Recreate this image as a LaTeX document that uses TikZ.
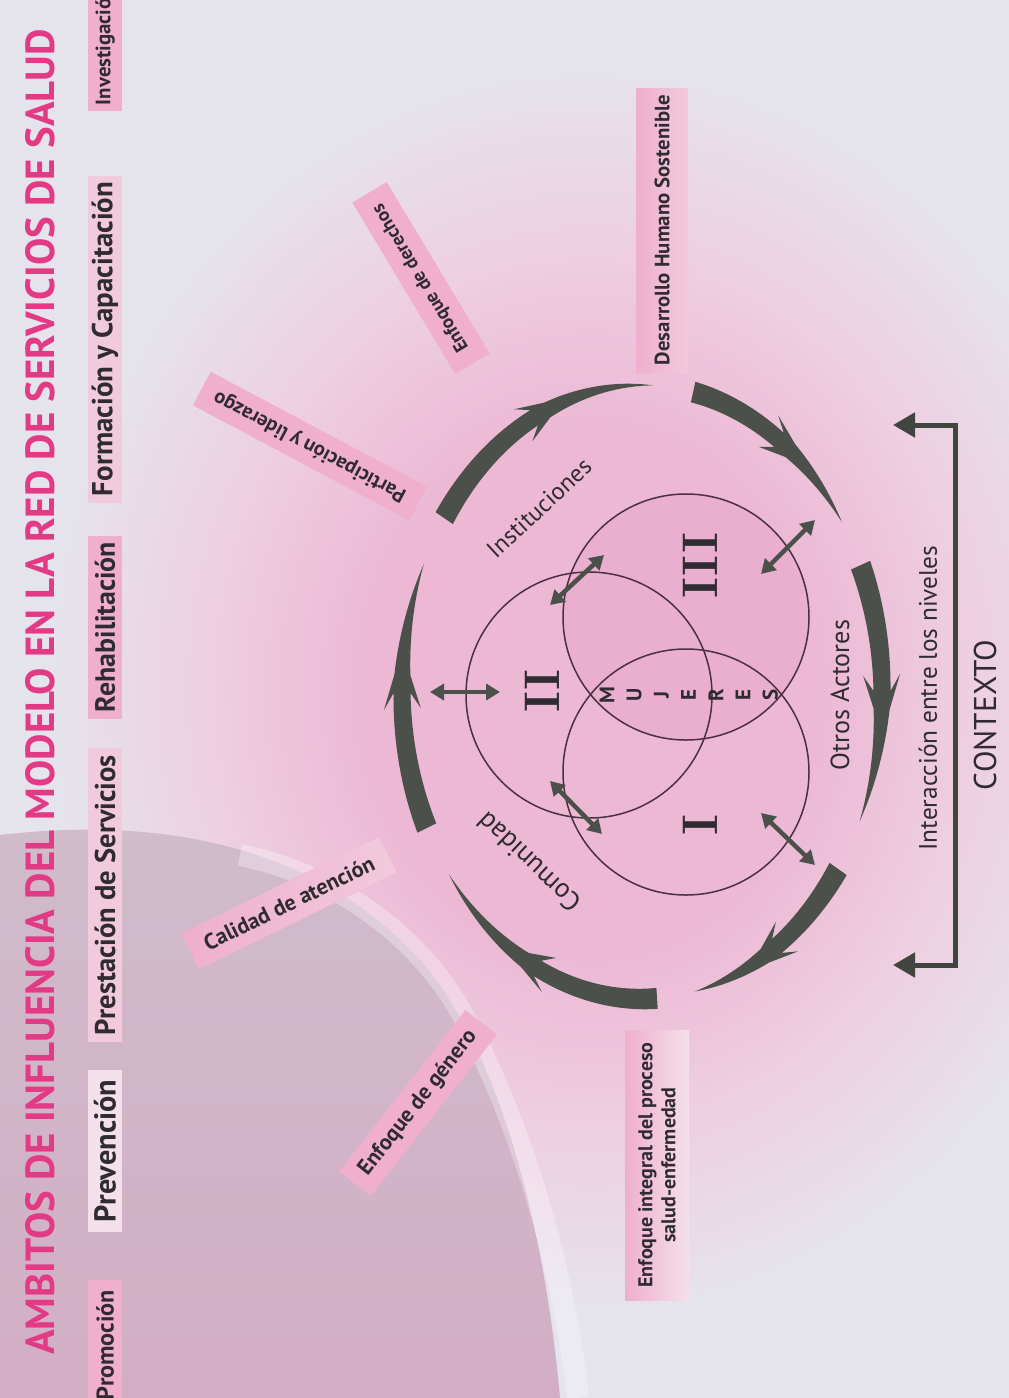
\documentclass[tikz,border=0pt]{standalone}
\usepackage{fontspec}
\usepackage{graphicx}
\newfontfamily\ptsans{PT Sans}
\usetikzlibrary{arrows.meta}

\definecolor{bg}{HTML}{E5E3EC}
\definecolor{glowpink}{HTML}{ECB8D4}
\definecolor{glowmid}{HTML}{EECFE1}
\definecolor{mauveA}{HTML}{D0BCCB}
\definecolor{mauveB}{HTML}{D2AEC4}
\definecolor{titlepink}{HTML}{E23A84}
\definecolor{boxpink}{HTML}{EFAFCD}
\definecolor{boxmid}{HTML}{F1CADC}
\definecolor{boxlight}{HTML}{F4E0EA}
\definecolor{arrowcol}{HTML}{4B514A}
\definecolor{txt}{HTML}{2F2B31}
\definecolor{circcol}{HTML}{4A3040}
\definecolor{circfill}{HTML}{E8A6C7}

% the central 50bp square of a shading is mapped on the path's bounding box
\pgfdeclareradialshading{glow}{\pgfpointorigin}{color(0bp)=(glowpink); color(10bp)=(glowpink); color(17bp)=(glowmid); color(24bp)=(bg); color(50bp)=(bg)}

\newcommand{\lb}{\ptsans\bfseries}
\newcommand{\lr}{\ptsans}
\newcommand{\fw}[2]{\resizebox{#1pt}{!}{#2}}

\def\cx{642}
\def\cy{692}
\def\rx{240}
\def\ry{307}
% #1 tail angle, #2 barb angle, #3 tip angle
\newcommand{\ringarrow}[3]{%
  \pgfmathsetmacro\tba{#2-1.2}%
  \pgfmathsetmacro\tbp{#2+2.2}%
  \pgfmathsetmacro\tbm{#2-4.2}%
  \fill[arrowcol]
    plot[domain=#1:\tba, samples=25] ({\cx+(\rx+10.5-2*(\x-#1)/(\tba-#1))*cos(\x)},{\cy+(\ry+10.5-2*(\x-#1)/(\tba-#1))*sin(\x)})
    -- ({\cx+(\rx+18.5)*cos(\tbm)},{\cy+(\ry+18.5)*sin(\tbm)})
    -- plot[domain=\tbp:#3, samples=25] ({\cx+(\rx+8*(#3-\x)/(#3-\tbp))*cos(\x)},{\cy+(\ry+8*(#3-\x)/(#3-\tbp))*sin(\x)})
    -- plot[domain=#3:\tbp, samples=25] ({\cx+(\rx-8*(#3-\x)/(#3-\tbp))*cos(\x)},{\cy+(\ry-8*(#3-\x)/(#3-\tbp))*sin(\x)})
    -- ({\cx+(\rx-18.5)*cos(\tbm)},{\cy+(\ry-18.5)*sin(\tbm)})
    -- plot[domain=\tba:#1, samples=25] ({\cx+(\rx-10.5+2*(\x-#1)/(\tba-#1))*cos(\x)},{\cy+(\ry-10.5+2*(\x-#1)/(\tba-#1))*sin(\x)})
    -- cycle;
}

\tikzset{
  rlabel/.style={fill=boxpink, minimum height=38pt, inner sep=0pt, text=txt},
  clabel/.style={minimum height=34pt, inner sep=0pt, text=txt, rotate=90},
  plain/.style={text=txt, inner sep=0pt},
  roman/.style={font=\fontsize{50}{50}\selectfont\bfseries, text=txt, rotate=90, inner sep=0pt},
  dbl/.style={draw=arrowcol, line width=4.5pt, {Triangle[length=14pt,width=16pt]}-{Triangle[length=14pt,width=16pt]}},
  venn/.style={draw=circcol, line width=1.5pt, circle, minimum size=246pt, inner sep=0pt},
}

\begin{document}
\begin{tikzpicture}[x=1pt,y=-1pt]
\useasboundingbox (0,0) rectangle (1009,1398);
\begin{scope}
\clip (0,0) rectangle (1009,1398);
\fill[bg] (0,0) rectangle (1009,1398);
\shade[shading=glow] (28,44) rectangle (1152,1336);
\shade[top color=mauveA, bottom color=mauveB]
  (0,835) .. controls (170,815) and (320,850) .. (420,960)
  .. controls (500,1050) and (545,1230) .. (560,1398) -- (0,1398) -- cycle;
\draw[white, opacity=0.3, line width=22pt]
  (240,855) .. controls (340,875) and (420,940) .. (460,1010)
  .. controls (510,1100) and (560,1240) .. (578,1398);
\end{scope}

% title
\node[rotate=90, text=titlepink, inner sep=0pt] (title) at (40,692)
  {\resizebox{1325pt}{29pt}{\ptsans\bfseries AMBITOS DE INFLUENCIA DEL MODELO EN LA RED DE SERVICIOS DE SALUD}};

% column of fields
\node[clabel, fill=boxpink, minimum width=130pt] (promo) at (105,1345) {\fw{110}{\lb Promoción}};
\node[clabel, fill=boxlight, minimum width=162pt] (prev) at (105,1151) {\fw{142}{\lb Prevención}};
\node[clabel, fill=boxmid, minimum width=294pt] (prest) at (105,895) {\fw{280}{\lb Prestación de Servicios}};
\node[clabel, fill=boxpink, minimum width=183pt] (rehab) at (105,627) {\fw{170}{\lb Rehabilitación}};
\node[clabel, fill=boxmid, minimum width=327pt] (form) at (105,339) {\fw{314}{\lb Formación y Capacitación}};
\node[clabel, fill=boxpink, minimum width=130pt] (inv) at (105,46) {\fw{118}{\lb Investigación}};

% outer labels
\node[rlabel, rotate=152, minimum width=245pt] (part) at (310,446) {\fw{215}{\lb Participación y liderazgo}};
\node[rlabel, rotate=121, minimum width=200pt, minimum height=40pt] (derech) at (421,278) {\fw{169}{\lb Enfoque de derechos}};
\node[rlabel, rotate=26, minimum width=220pt, minimum height=40pt, left color=boxpink, right color=boxmid] (calid) at (289,903) {\fw{187}{\lb Calidad de atención}};
\node[rlabel, rotate=52, minimum width=205pt, minimum height=40pt] (genero) at (418,1103) {\fw{178}{\lb Enfoque de género}};
\node[rotate=90, minimum width=284pt, minimum height=52pt, inner sep=0pt, left color=boxpink, right color=boxmid, text=txt] (desa) at (662,230) {\fw{270}{\lb Desarrollo Humano Sostenible}};
\node[rotate=90, minimum width=270pt, minimum height=64pt, inner sep=0pt, left color=boxpink, right color=boxlight, align=center, text=txt, font=\lb\fontsize{20}{23}\selectfont] (integ) at (657,1165) {Enfoque integral del proceso\\salud-enfermedad};

% ring of arrows
\ringarrow{214.5}{244.5}{272.6}
\ringarrow{282.3}{306}{326.4}
\ringarrow{335.6}{361}{385}
\ringarrow{35.2}{57}{77.3}
\ringarrow{86.4}{117}{143.6}
\ringarrow{153.7}{181}{204.6}

% Venn circles
\fill[circfill, opacity=0.45] (686,617) circle[radius=123pt];
\node[venn] (cII) at (589,695) {};
\node[venn] (cIII) at (686,617) {};
\node[venn] (cI) at (686,772) {};

\node[roman] (rII) at (542,691) {II};
\node[roman] (rIII) at (700,566) {III};
\node[roman] (rI) at (700,825) {I};

\foreach \l [count=\i from 0] in {M,U,J,E,R,E,S}
  \node[rotate=90, font=\lb\fontsize{21}{21}\selectfont, text=txt, inner sep=0pt] (muj\i) at (607+27.2*\i,695) {\l};

% ring labels
\node[plain, rotate=43] (inst) at (539,508) {\fw{133}{\lr Instituciones}};
\node[plain, rotate=136.5] (comu) at (529,862) {\fw{131}{\lr Comunidad}};
\node[plain, rotate=90] (otros) at (840,695) {\fw{150}{\lr Otros Actores}};
\node[plain, rotate=90] (inter) at (928,698) {\fw{305}{\lr Interacción entre los niveles}};
\node[plain, rotate=90] (ctx) at (985,715) {\fw{150}{\lr CONTEXTO}};

% double arrows
\coordinate (d1a) at (430,692); \coordinate (d1b) at (500,692);
\coordinate (d2a) at (550,605); \coordinate (d2b) at (604,555);
\coordinate (d3a) at (761,574); \coordinate (d3b) at (815,520);
\coordinate (d4a) at (761,813); \coordinate (d4b) at (815,865);
\coordinate (d5a) at (550,781); \coordinate (d5b) at (602,834);
\draw[dbl] (d1a) -- (d1b);
\draw[dbl] (d2a) -- (d2b);
\draw[dbl] (d3a) -- (d3b);
\draw[dbl] (d4a) -- (d4b);
\draw[dbl] (d5a) -- (d5b);

% context bracket
\coordinate (btl) at (893,425); \coordinate (bt) at (955,425);
\coordinate (bb) at (955,965); \coordinate (bbl) at (893,965);
\draw[arrowcol!85!black, line width=5pt, line join=miter, {Triangle[length=22pt,width=24pt]}-{Triangle[length=22pt,width=24pt]}] (btl) -- (bt) -- (bb) -- (bbl);
\end{tikzpicture}
\end{document}
